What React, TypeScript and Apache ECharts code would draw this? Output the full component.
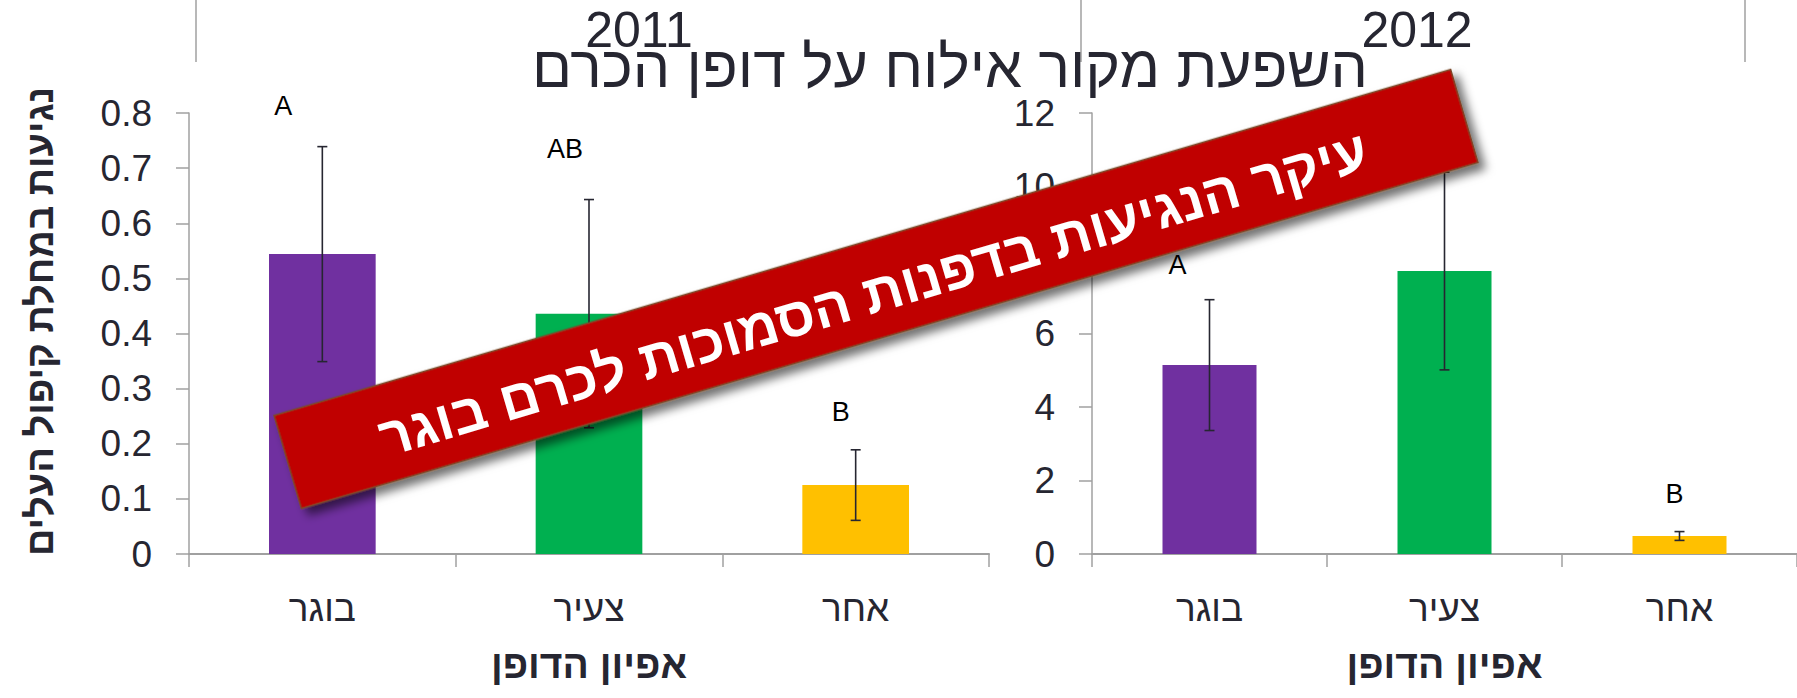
import React, { useEffect, useRef } from 'react';
import * as echarts from 'echarts';

// ---------- data ----------
const categories = ['בוגר', 'צעיר', 'אחר'];
const barColors = ['#7030A0', '#00B050', '#FFC000'];

const means2011 = [0.544, 0.436, 0.125];
const errors2011 = [0.195, 0.207, 0.064];
const letters2011 = ['A', 'AB', 'B'];
const letterValue2011 = [0.812, 0.734, 0.257];

const means2012 = [5.14, 7.7, 0.49];
const errors2012 = [1.78, 2.69, 0.12];
const letters2012 = ['A', '', 'B'];
const letterValue2012 = [7.86, 0, 1.63];

const yMin2011 = 0;
const yMax2011 = 0.8;
const yStep2011 = 0.1;
const yMin2012 = 0;
const yMax2012 = 12;
const yStep2012 = 2;

const mainTitle = 'השפעת מקור אילוח על דופן הכרם';
const panelTitles = ['2011', '2012'];
const yAxisName = 'נגיעות במחלת קיפול העלים';
const xAxisName = 'אפיון הדופן';
const bannerText = 'עיקר הנגיעות בדפנות הסמוכות לכרם בוגר';

// ---------- layout / style ----------
const FONT = '"Liberation Sans", Arial, "DejaVu Sans", sans-serif';
const TEXT = '#262631';
const AXIS = '#a0a0a0';
const letterShift2011 = [-39, -24, -15];
const letterShift2012 = [-32, 0, -5];

function errorSeries(axisIdx: number, means: number[], errs: number[]) {
  return {
    type: 'custom',
    xAxisIndex: axisIdx,
    yAxisIndex: axisIdx,
    z: 5,
    data: means.map((m, i) => [i, m - errs[i], m + errs[i]]),
    renderItem: (params: any, api: any) => {
      const lo = api.coord([api.value(0), api.value(1)]);
      const hi = api.coord([api.value(0), api.value(2)]);
      const hw = 5;
      const st = { stroke: TEXT, lineWidth: 1.6 };
      return {
        type: 'group',
        children: [
          { type: 'line', shape: { x1: lo[0], y1: lo[1], x2: hi[0], y2: hi[1] }, style: st },
          { type: 'line', shape: { x1: lo[0] - hw, y1: lo[1], x2: lo[0] + hw, y2: lo[1] }, style: st },
          { type: 'line', shape: { x1: hi[0] - hw, y1: hi[1], x2: hi[0] + hw, y2: hi[1] }, style: st },
        ],
      };
    },
  };
}

function letterSeries(axisIdx: number, letters: string[], vals: number[], shifts: number[]) {
  return {
    type: 'custom',
    xAxisIndex: axisIdx,
    yAxisIndex: axisIdx,
    z: 6,
    data: letters.map((l, i) => [i, vals[i]]),
    renderItem: (params: any, api: any) => {
      const i = params.dataIndex;
      if (!letters[i]) return null;
      const p = api.coord([api.value(0), api.value(1)]);
      return {
        type: 'text',
        x: p[0] + shifts[i],
        y: p[1],
        style: {
          text: letters[i],
          fill: '#000',
          font: `27px ${FONT}`,
          align: 'center',
          verticalAlign: 'middle',
          textAlign: 'center',
          textVerticalAlign: 'middle',
        },
      };
    },
  };
}

function barSeries(axisIdx: number, means: number[]) {
  return {
    type: 'bar',
    xAxisIndex: axisIdx,
    yAxisIndex: axisIdx,
    barWidth: '40%',
    data: means.map((v, i) => ({ value: v, itemStyle: { color: barColors[i] } })),
  };
}

function xAxis(gridIndex: number) {
  return {
    type: 'category',
    gridIndex,
    data: categories,
    boundaryGap: true,
    axisLine: { lineStyle: { color: AXIS, width: 2 } },
    axisTick: { show: true, alignWithLabel: false, length: 13, lineStyle: { color: AXIS, width: 1.5 } },
    axisLabel: { color: TEXT, fontSize: 37, fontFamily: FONT, margin: 36 },
    name: xAxisName,
    nameLocation: 'middle',
    nameGap: 91,
    nameTextStyle: { color: TEXT, fontSize: 39, fontWeight: 'bold', fontFamily: FONT },
  };
}

function yAxis(gridIndex: number, min: number, max: number, step: number, name?: string) {
  return {
    type: 'value',
    gridIndex,
    min,
    max,
    interval: step,
    splitLine: { show: false },
    axisLine: { show: true, lineStyle: { color: AXIS, width: 1.5 } },
    axisTick: { show: true, length: 13, lineStyle: { color: AXIS, width: 1.5 } },
    axisLabel: { color: TEXT, fontSize: 37, fontFamily: FONT, margin: 37 },
    name: name || '',
    nameLocation: 'middle',
    nameGap: 130,
    nameRotate: 90,
    nameTextStyle: { color: TEXT, fontSize: 38, fontWeight: 'bold', fontFamily: FONT, padding: [0, 0, 0, 24] },
  };
}

const bannerAngle = (16.4 * Math.PI) / 180;

export default function App() {
  const ref = useRef<HTMLDivElement>(null);
  useEffect(() => {
    if (!ref.current) return;
    const chart = echarts.init(ref.current, null, { renderer: 'svg' });
    const option: any = {
      animation: false,
      backgroundColor: '#ffffff',
      textStyle: { fontFamily: FONT },
      grid: [
        { left: 189, top: 113, width: 800, height: 441, outerBoundsMode: 'none' },
        { left: 1092, top: 113, width: 705, height: 441, outerBoundsMode: 'none' },
      ],
      xAxis: [xAxis(0), xAxis(1)],
      yAxis: [
        yAxis(0, yMin2011, yMax2011, yStep2011, yAxisName),
        yAxis(1, yMin2012, yMax2012, yStep2012),
      ],
      series: [
        barSeries(0, means2011),
        errorSeries(0, means2011, errors2011),
        letterSeries(0, letters2011, letterValue2011, letterShift2011),
        barSeries(1, means2012),
        errorSeries(1, means2012, errors2012),
        letterSeries(1, letters2012, letterValue2012, letterShift2012),
      ],
      title: [
        { text: panelTitles[0], left: 634, top: 0, textAlign: 'center', textStyle: { color: TEXT, fontSize: 50, fontWeight: 'normal', fontFamily: FONT } },
        { text: panelTitles[1], left: 1412, top: 0, textAlign: 'center', textStyle: { color: TEXT, fontSize: 50, fontWeight: 'normal', fontFamily: FONT } },
        { text: mainTitle, left: 945, top: 32, textAlign: 'center', textStyle: { color: TEXT, fontSize: 59, fontWeight: 'normal', fontFamily: FONT } },
      ],
      graphic: [
        { type: 'line', z: 1, shape: { x1: 196, y1: 0, x2: 196, y2: 62 }, style: { stroke: AXIS, lineWidth: 1.5 } },
        { type: 'line', z: 1, shape: { x1: 1081, y1: 0, x2: 1081, y2: 62 }, style: { stroke: AXIS, lineWidth: 1.5 } },
        { type: 'line', z: 1, shape: { x1: 1745, y1: 0, x2: 1745, y2: 62 }, style: { stroke: AXIS, lineWidth: 1.5 } },
        {
          type: 'group',
          x: 876,
          y: 289,
          rotation: bannerAngle,
          z: 100,
          children: [
            {
              type: 'rect',
              z: 100,
              shape: { x: -613.5, y: -48.4, width: 1227, height: 96.8 },
              style: {
                fill: '#C00000',
                stroke: '#7a4a2a',
                lineWidth: 1.5,
                shadowBlur: 10,
                shadowOffsetX: 5,
                shadowOffsetY: 8,
                shadowColor: 'rgba(0,0,0,0.55)',
              },
            },
            {
              type: 'text',
              z: 101,
              x: -4,
              y: 4,
              style: {
                text: bannerText,
                fill: '#ffffff',
                font: `bold 55px ${FONT}`,
                align: 'center',
                verticalAlign: 'middle',
                textAlign: 'center',
                textVerticalAlign: 'middle',
              },
            },
          ],
        },
      ],
    };
    chart.setOption(option);
    return () => chart.dispose();
  }, []);
  return (
    <div
      ref={ref}
      style={{ position: 'absolute', left: 0, top: 0, width: 1797, height: 698 }}
    />
  );
}
